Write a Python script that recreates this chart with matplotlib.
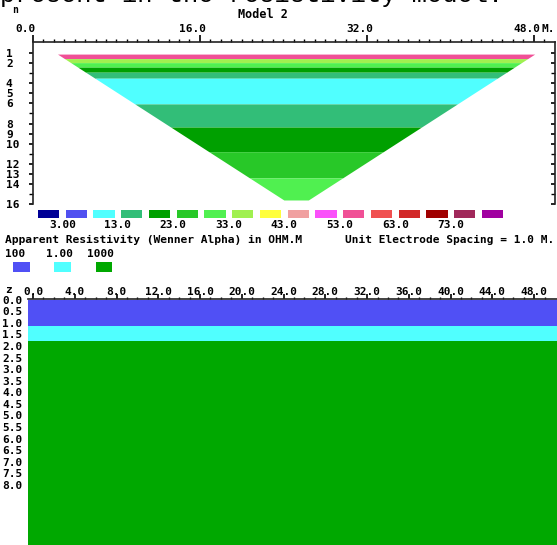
import numpy as np
import matplotlib
matplotlib.use("Agg")
import matplotlib.pyplot as plt
from matplotlib.transforms import ScaledTranslation

plt.rcParams['font.family'] = ['DejaVu Sans Mono']
plt.rcParams['font.weight'] = 'bold'
plt.rcParams['font.size'] = 8

W, H = 557, 545

# colour scale of the pseudosection (17 classes, 5 ohm.m each)
scaleColours = ['#000096', '#5050F0', '#50FFFF', '#32BE78', '#00A000', '#28C828',
                '#50F050', '#A0F050', '#FFFF3C', '#F0A0A0', '#FA50FA', '#F05096',
                '#F05050', '#D22828', '#A00000', '#A0285A', '#A000A0']
scaleEdges = [-2, 3, 8, 13, 18, 23, 28, 33, 38, 43, 48, 53, 58, 63, 68, 73, 78, 83]
scaleLabels = ['3.00', '13.0', '23.0', '33.0', '43.0', '53.0', '63.0', '73.0']

# apparent resistivity bands (pseudodepth n)
bandTop = [1.1, 1.55, 1.95, 2.4, 2.9, 3.5, 6.05, 8.35, 10.8, 13.4]
bandBottom = [1.55, 1.95, 2.4, 2.9, 3.5, 6.05, 8.35, 10.8, 13.4, 15.6]
bandValue = [55, 35, 30, 20, 15, 10, 15, 20, 25, 30]

# outline of the pseudosection
outlineN = [1.1, 15.6]
outlineLeft = [2.35, 24.05]
outlineRight = [48.1, 26.4]

# model layers
layerTop = [0.0, 1.15, 1.8]
layerBottom = [1.15, 1.8, 12.0]
layerColours = ['#5050F5', '#50FFFF', '#00A800']
layerLabels = ['100', '1.00', '1000']

nTicks = [1, 2, 4, 5, 6, 8, 9, 10, 12, 13, 14, 16]
xTicksTop = [0, 16, 32, 48]
xTicksBottom = [0, 4, 8, 12, 16, 20, 24, 28, 32, 36, 40, 44, 48]
zTicks = np.arange(0, 8.01, 0.5)


def rect(l, t, r, b):
    return [l / W, 1 - b / H, (r - l) / W, (b - t) / H]


def colourFor(v):
    for i in range(len(scaleColours)):
        if scaleEdges[i] <= v < scaleEdges[i + 1]:
            return scaleColours[i]
    return scaleColours[-1]


fig = plt.figure(figsize=(W / 100, H / 100), dpi=100)

# cut off caption line of the page above
fig.text(0.0, 1 - 2 / H, "present in the resistivity model.", family='Liberation Mono',
         fontsize=18.3, fontweight='normal', va='baseline', ha='left')

fig.text(263 / W, 1 - 15 / H, "Model 2", ha='center', va='center', fontsize=8.5)
fig.text(15 / W, 1 - 10 / H, "n", ha='center', va='center', fontsize=7)
fig.text(548 / W, 1 - 29 / H, "M.", ha='center', va='center')

# ---- pseudosection
ax = fig.add_axes(rect(33, 42, 555, 204))
for top, bot, val in zip(bandTop, bandBottom, bandValue):
    ys = np.array([top, bot])
    x1 = np.interp(ys, outlineN, outlineLeft)
    x2 = np.interp(ys, outlineN, outlineRight)
    ax.fill_betweenx(ys, x1, x2, color=colourFor(val), linewidth=0)

ax.set_xlim(0, 50.05)
ax.set_ylim(16, -0.1)
ax.spines['bottom'].set_visible(False)
for s in ['top', 'left', 'right']:
    ax.spines[s].set_linewidth(1.2)
    ax.spines[s].set_color('#222222')
ax.xaxis.tick_top()
ax.set_xticks(xTicksTop)
ax.set_xticklabels(['%.1f' % v for v in xTicksTop])
ax.set_xticks(np.arange(0, 50, 1), minor=True)
ax.tick_params(axis='x', which='major', direction='out', length=5, width=1.2, pad=1)
ax.tick_params(axis='x', which='minor', direction='out', length=2.5, width=1)
shift = ScaledTranslation(-7 / 100, 0, fig.dpi_scale_trans)
for lab in ax.get_xticklabels():
    lab.set_transform(lab.get_transform() + shift)
ax.set_yticks(nTicks)
ax.set_yticklabels([str(v) for v in nTicks], ha='left')
ax.set_yticks(np.arange(1, 17, 1), minor=True)
ax.tick_params(axis='y', which='major', direction='out', length=3, width=1.2, pad=16.5,
               right=True, labelright=False)
ax.tick_params(axis='y', which='minor', direction='out', length=3, width=1, right=True)
for t in ax.yaxis.get_ticklines(minor=True)[1::2] + ax.yaxis.get_ticklines()[1::2]:
    t.set_marker(0)

# ---- colour scale
axc = fig.add_axes(rect(34.6, 210, 506.4, 218))
axc.bar(np.arange(len(scaleColours)), 1, width=0.76, color=scaleColours)
axc.set_xlim(-0.5, len(scaleColours) - 0.5)
axc.set_ylim(0, 1)
axc.axis('off')
for i, lab in enumerate(scaleLabels):
    axc.text(2 * i + 0.5, -0.9, lab, ha='center', va='center')

fig.text(5 / W, 1 - 240 / H, "Apparent Resistivity (Wenner Alpha) in OHM.M",
         ha='left', va='center', fontsize=8.1)
fig.text(345 / W, 1 - 240 / H, "Unit Electrode Spacing = 1.0 M.",
         ha='left', va='center', fontsize=8.0)

# ---- model legend
axm = fig.add_axes(rect(0.9, 262, 124.6, 272))
axm.bar(np.arange(len(layerColours)), 1, width=0.41, color=layerColours)
axm.set_xlim(-0.5, len(layerColours) - 0.5)
axm.set_ylim(0, 1)
axm.axis('off')
for i, lab in enumerate(layerLabels):
    axm.text(i - 0.4, 1.8, lab, ha='left', va='center')

# ---- model section
axb = fig.add_axes(rect(28, 299, 557, 545))
for top, bot, c in zip(layerTop, layerBottom, layerColours):
    axb.axhspan(top, bot, color=c, linewidth=0)
axb.set_xlim(-0.48, 50.19)
axb.set_ylim(10.6, -0.03)
for s in ['bottom', 'left', 'right']:
    axb.spines[s].set_visible(False)
axb.spines['top'].set_linewidth(1.2)
axb.spines['top'].set_color('#222222')
axb.xaxis.tick_top()
axb.set_xticks(xTicksBottom)
axb.set_xticklabels(['%.1f' % v for v in xTicksBottom])
axb.set_xticks(np.arange(0, 50, 1), minor=True)
axb.tick_params(axis='x', which='major', direction='out', length=3.5, width=1.2, pad=-2)
axb.tick_params(axis='x', which='minor', direction='out', length=1.8, width=1)
axb.set_yticks(zTicks)
axb.set_yticklabels(['%.1f' % v for v in zTicks], ha='left')
axb.tick_params(axis='y', length=0, pad=18.7)
fig.text(8 / W, 1 - 290 / H, "z", ha='center', va='center')

fig.savefig("out.png", dpi=100)
